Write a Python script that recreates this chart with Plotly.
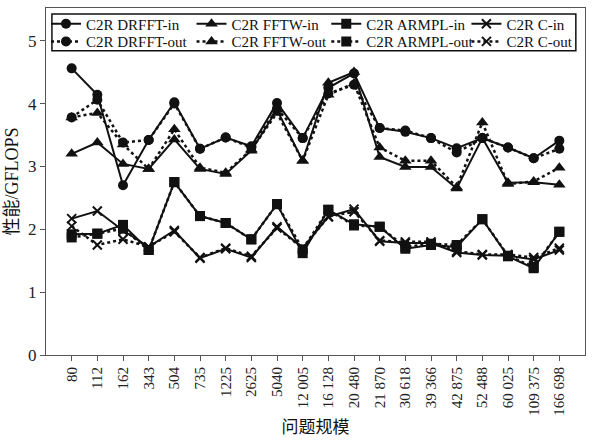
import plotly.graph_objects as go

sizes = ["80", "112", "162", "343", "504", "735", "1225", "2625", "5040", "12 005",
         "16 128", "20 480", "21 870", "30 618", "39 366", "42 875", "52 488", "60 025",
         "109 375", "166 698"]

drfft_in = [4.56, 4.14, 2.70, 3.42, 4.02, 3.28, 3.46, 3.32, 4.01, 3.45,
            4.25, 4.48, 3.61, 3.55, 3.45, 3.29, 3.45, 3.30, 3.13, 3.41]
drfft_out = [3.78, 4.06, 3.38, 3.42, 4.00, 3.28, 3.46, 3.30, 3.92, 3.45,
             4.16, 4.30, 3.61, 3.57, 3.45, 3.22, 3.45, 3.30, 3.13, 3.28]
fftw_in = [3.20, 3.38, 3.04, 2.96, 3.43, 2.96, 2.88, 3.25, 3.90, 3.09,
           4.33, 4.50, 3.15, 2.99, 2.99, 2.65, 3.45, 2.74, 2.75, 2.71]
fftw_out = [3.78, 3.85, 3.35, 2.96, 3.59, 2.98, 2.90, 3.27, 3.85, 3.09,
            4.14, 4.32, 3.30, 3.09, 3.09, 2.67, 3.70, 2.72, 2.76, 2.98]
armpl_in = [1.92, 1.93, 2.07, 1.67, 2.75, 2.21, 2.10, 1.84, 2.40, 1.62,
            2.31, 2.08, 2.04, 1.69, 1.75, 1.72, 2.16, 1.57, 1.38, 1.96]
armpl_out = [1.87, 1.93, 2.01, 1.67, 2.75, 2.21, 2.10, 1.84, 2.40, 1.68,
             2.31, 2.06, 2.04, 1.72, 1.77, 1.75, 2.16, 1.58, 1.40, 1.96]
c_in = [2.17, 2.29, 1.98, 1.72, 1.98, 1.54, 1.69, 1.55, 2.04, 1.70,
        2.20, 2.32, 1.81, 1.78, 1.78, 1.63, 1.59, 1.58, 1.52, 1.67]
c_out = [2.05, 1.75, 1.84, 1.72, 1.96, 1.55, 1.70, 1.57, 2.02, 1.70,
         2.20, 2.28, 1.82, 1.80, 1.80, 1.65, 1.60, 1.60, 1.55, 1.70]

BLACK = "#111111"
FONT = "Liberation Serif"

# name, values, symbol, dash, marker size, legend column, legend row
series = [
    ("C2R DRFFT-in", drfft_in, "circle", "solid", 10, 0, 0),
    ("C2R DRFFT-out", drfft_out, "circle", "dot", 10, 0, 1),
    ("C2R FFTW-in", fftw_in, "triangle-up", "solid", 11, 1, 0),
    ("C2R FFTW-out", fftw_out, "triangle-up", "dot", 11, 1, 1),
    ("C2R ARMPL-in", armpl_in, "square", "solid", 10, 2, 0),
    ("C2R ARMPL-out", armpl_out, "square", "dot", 10, 2, 1),
    ("C2R C-in", c_in, "x-thin", "solid", 9, 3, 0),
    ("C2R C-out", c_out, "x-thin", "dot", 9, 3, 1),
]

col_x = [0.0, 0.27, 0.52, 0.78]
row_y = [0.954, 0.903]

fig = go.Figure()
legend_layout = {}
for i, (name, vals, sym, dash, msize, col, row) in enumerate(series):
    key = "legend" if i == 0 else f"legend{i + 1}"
    fig.add_trace(go.Scatter(
        x=sizes, y=vals, name=name, mode="lines+markers", legend=key,
        line=dict(color=BLACK, width=2 if dash == "solid" else 2.5, dash=dash),
        marker=dict(symbol=sym, size=msize, color=BLACK,
                    line=dict(color=BLACK, width=2 if sym == "x-thin" else 0)),
    ))
    legend_layout[key] = dict(
        x=col_x[col], y=row_y[row], xanchor="left", yanchor="middle",
        bgcolor="rgba(0,0,0,0)", borderwidth=0,
        font=dict(family=FONT, size=15, color=BLACK),
        orientation="v", itemwidth=30)

fig.update_layout(**legend_layout)

fig.add_shape(type="rect", xref="paper", yref="paper", x0=0.011, x1=0.983,
              y0=0.877, y1=0.983, line=dict(color=BLACK, width=1.5))

fig.update_layout(
    width=593, height=441,
    margin=dict(l=46, r=7, t=7, b=85),
    paper_bgcolor="white", plot_bgcolor="white",
    font=dict(family=FONT, color=BLACK),
    showlegend=True,
    xaxis=dict(type="category", range=[-1, 20], showgrid=False, zeroline=False,
               showline=True, linecolor="#555555", linewidth=1.2, mirror=True,
               ticks="outside", ticklen=5, tickcolor="#555555", tickangle=-90,
               tickfont=dict(family=FONT, size=15, color="#222222"),
               title=dict(text="问题规模", font=dict(family="Noto Sans CJK SC", size=17, color=BLACK),
                          standoff=6)),
    yaxis=dict(range=[0, 5.52], showgrid=False, zeroline=False,
               showline=True, linecolor="#555555", linewidth=1.2, mirror=True,
               ticks="outside", ticklen=5, tickcolor="#555555",
               tickvals=[0, 1, 2, 3, 4, 5],
               tickfont=dict(family=FONT, size=17, color="#222222"),
               title=dict(text="性能/GFLOPS", font=dict(family=FONT + ", Noto Sans CJK SC", size=18, color=BLACK),
                          standoff=4)),
)

fig.write_html("out.html")
